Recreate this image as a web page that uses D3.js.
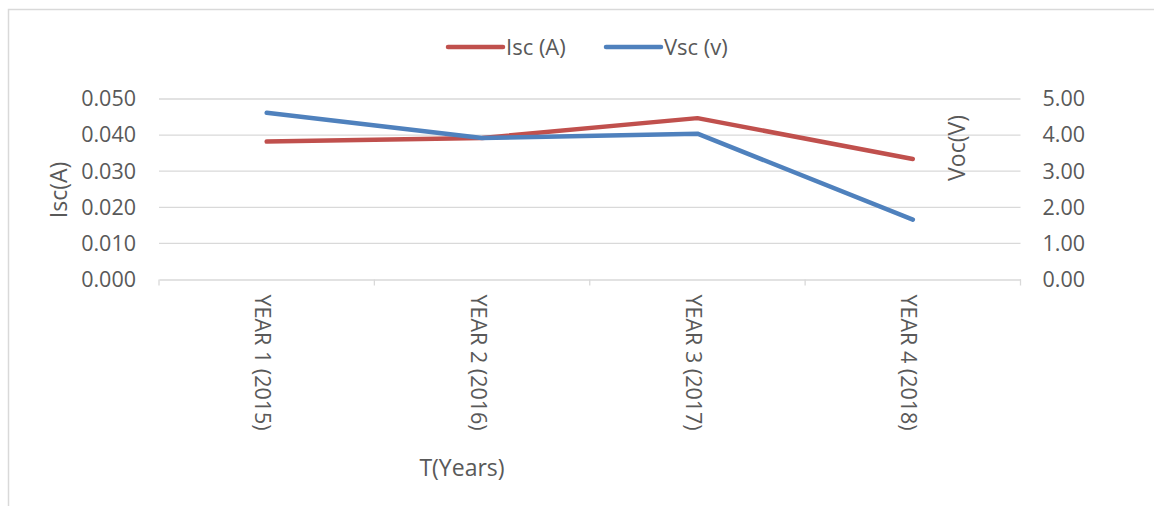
<!DOCTYPE html>
<html><head><meta charset="utf-8">
<script src="https://cdn.jsdelivr.net/npm/d3@7"></script>
<style>body{margin:0;background:#fff;} text{font-family:"Open Sans","Noto Sans",sans-serif;fill:#595959;}</style>
</head><body><svg id="c" width="1154" height="506"></svg>
<script>
const categories = ["YEAR 1 (2015)", "YEAR 2 (2016)", "YEAR 3 (2017)", "YEAR 4 (2018)"];
const iscValues = [0.0382, 0.0392, 0.0447, 0.0334];
const vscValues = [4.62, 3.92, 4.04, 1.66];
const leftTicks = [0, 0.01, 0.02, 0.03, 0.04, 0.05];
const rightTicks = [0, 1, 2, 3, 4, 5];
const seriesNames = ["Isc (A)", "Vsc (v)"];
const colors = ["#C0504D", "#4F81BD"];

const svg = d3.select("#c");
const L = 159, R = 1020.5, T = 99, B = 279.5;
const fsTick = 21.5, fsCat = 21.5, fsLeg = 22, fsTitle = 23;
const FF = '"Open Sans","Noto Sans",sans-serif';

// outer border
svg.append("path").attr("d", "M8.5,506 V9.5 H1154").attr("fill", "none").attr("stroke", "#d9d9d9").attr("stroke-width", 1.5);

const x = d3.scaleBand().domain(categories).range([L, R]).padding(0);
const yL = d3.scaleLinear().domain([0, 0.05]).range([B, T]);
const yR = d3.scaleLinear().domain([0, 5]).range([B, T]);

// gridlines
svg.append("g").selectAll("line").data(leftTicks.slice(1)).join("line")
  .attr("x1", L).attr("x2", R).attr("y1", d => yL(d)).attr("y2", d => yL(d))
  .attr("stroke", "#d9d9d9").attr("stroke-width", 1.3);

// x axis
const xa = svg.append("g").attr("transform", `translate(0,${B})`)
  .call(d3.axisBottom(x).tickSize(0).tickFormat(""));
xa.select(".domain").attr("stroke", "#d9d9d9").attr("stroke-width", 1.3);
const bounds = categories.map(c => x(c)).concat([R]);
svg.append("g").selectAll("line").data(bounds).join("line")
  .attr("x1", d => d).attr("x2", d => d).attr("y1", B).attr("y2", B + 6)
  .attr("stroke", "#d9d9d9").attr("stroke-width", 1.3);
svg.append("g").selectAll("text").data(categories).join("text")
  .attr("transform", d => `translate(${x(d) + x.bandwidth() / 2 - 4},${B + 15}) rotate(90)`)
  .attr("dy", "0.35em").attr("font-size", fsCat).attr("text-anchor", "start").text(d => d);

// left axis
const la = svg.append("g").attr("transform", `translate(${L},0)`)
  .call(d3.axisLeft(yL).tickValues(leftTicks).tickSize(0).tickPadding(23).tickFormat(d3.format(".3f")));
la.select(".domain").remove();
la.selectAll("text").attr("font-size", fsTick).attr("font-family", FF).attr("fill", "#595959");

// right axis
const ra = svg.append("g").attr("transform", `translate(${R},0)`)
  .call(d3.axisRight(yR).tickValues(rightTicks).tickSize(0).tickPadding(22).tickFormat(d3.format(".2f")));
ra.select(".domain").remove();
ra.selectAll("text").attr("font-size", fsTick).attr("font-family", FF).attr("fill", "#595959");

// lines
const cx = d => x(d) + x.bandwidth() / 2;
const lineL = d3.line().x((d, i) => cx(categories[i])).y(d => yL(d));
const lineR = d3.line().x((d, i) => cx(categories[i])).y(d => yR(d));
svg.append("path").datum(iscValues).attr("d", lineL).attr("fill", "none")
  .attr("stroke", colors[0]).attr("stroke-width", 4.5).attr("stroke-linecap", "round").attr("stroke-linejoin", "round");
svg.append("path").datum(vscValues).attr("d", lineR).attr("fill", "none")
  .attr("stroke", colors[1]).attr("stroke-width", 4.5).attr("stroke-linecap", "round").attr("stroke-linejoin", "round");

// axis titles
svg.append("text").attr("transform", `translate(67,190) rotate(-90)`).attr("text-anchor", "middle")
  .attr("font-size", fsTitle).text("Isc(A)");
svg.append("text").attr("transform", `translate(965,148) rotate(-90)`).attr("text-anchor", "middle")
  .attr("font-size", fsTitle).text("Voc(V)");
svg.append("text").attr("x", 462).attr("y", 476).attr("text-anchor", "middle")
  .attr("font-size", fsTitle).text("T(Years)");

// legend
const legX = [448, 606];
const lg = svg.append("g");
seriesNames.forEach((n, i) => {
  lg.append("line").attr("x1", legX[i]).attr("x2", legX[i] + 55).attr("y1", 47).attr("y2", 47)
    .attr("stroke", colors[i]).attr("stroke-width", 4.5).attr("stroke-linecap", "round");
  lg.append("text").attr("x", legX[i] + 58).attr("y", 47).attr("dy", "0.35em").attr("font-size", fsLeg).text(n);
});
</script></body></html>
